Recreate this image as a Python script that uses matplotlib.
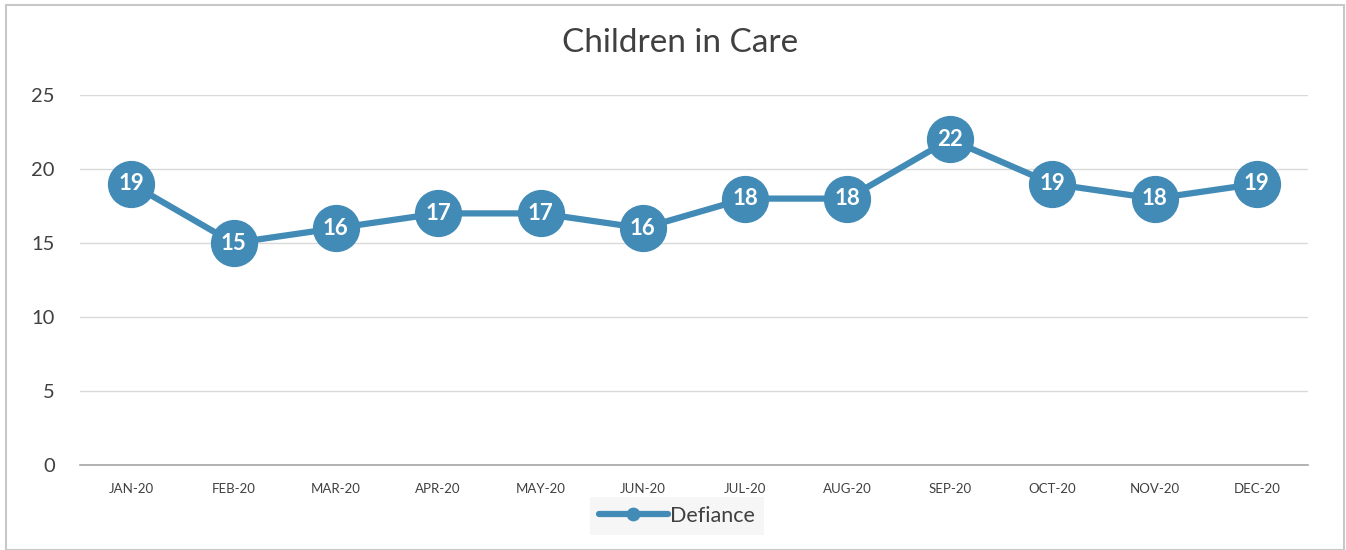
import matplotlib
matplotlib.use("Agg")
import matplotlib.pyplot as plt
from matplotlib.patches import Rectangle

months = ["JAN-20", "FEB-20", "MAR-20", "APR-20", "MAY-20", "JUN-20",
          "JUL-20", "AUG-20", "SEP-20", "OCT-20", "NOV-20", "DEC-20"]
defiance = [19, 15, 16, 17, 17, 16, 18, 18, 22, 19, 18, 19]
yticks = [0, 5, 10, 15, 20, 25]

plt.rcParams['font.family'] = ['Lato', 'DejaVu Sans']
color = "#428bb7"

fig = plt.figure(figsize=(13.46, 5.5), dpi=100)
W, H = 1346, 550
ax = fig.add_axes([80 / W, 1 - 465 / H, (1308 - 80) / W, (465 - 95) / H])

x = list(range(len(months)))
ax.plot(x, defiance, color=color, lw=4.5, marker='o', markersize=33,
        markerfacecolor=color, markeredgecolor=color, label="Defiance",
        solid_capstyle='round', zorder=3)
for xi, v in zip(x, defiance):
    ax.text(xi, v, str(v), ha='center', va='center', color='white',
            fontsize=16, fontweight='bold', zorder=4)

ax.set_xlim(-0.5, len(months) - 0.5)
ax.set_ylim(0, 25)
ax.set_yticks(yticks)
ax.set_yticklabels([str(t) for t in yticks], fontsize=14.5, color='#404040')
ax.set_xticks(x)
ax.set_xticklabels(months, fontsize=9.5, color='#404040')
ax.tick_params(axis='both', length=0)
ax.tick_params(axis='y', pad=18)
ax.tick_params(axis='x', pad=13)
ax.grid(axis='y', color='#d9d9d9', lw=1)
ax.set_axisbelow(True)
for s in ['top', 'right', 'left']:
    ax.spines[s].set_visible(False)
ax.spines['bottom'].set_color('#a6a6a6')
ax.spines['bottom'].set_linewidth(1.2)

fig.text(680 / W, 1 - 43 / H, "Children in Care", ha='center', va='center',
         fontsize=24, color='#404040')

leg = fig.legend(loc='center', bbox_to_anchor=(677 / W, 1 - 516 / H),
                 fontsize=15.5, frameon=True, handlelength=3.2, markerscale=0.27,
                 borderpad=0.4, handletextpad=0.1, borderaxespad=0)
leg.get_frame().set_facecolor('#f4f4f4')
leg.get_frame().set_edgecolor('none')
leg.get_frame().set_boxstyle('square', pad=0)
leg.set_zorder(0)
for t in leg.get_texts():
    t.set_color('#404040')

fig.patches.append(Rectangle((6 / W, 0), (1344 - 6) / W, 1 - 5 / H,
                             transform=fig.transFigure, fill=False,
                             edgecolor='#c8c8c8', lw=1.5))

fig.savefig("out.png", dpi=100)
